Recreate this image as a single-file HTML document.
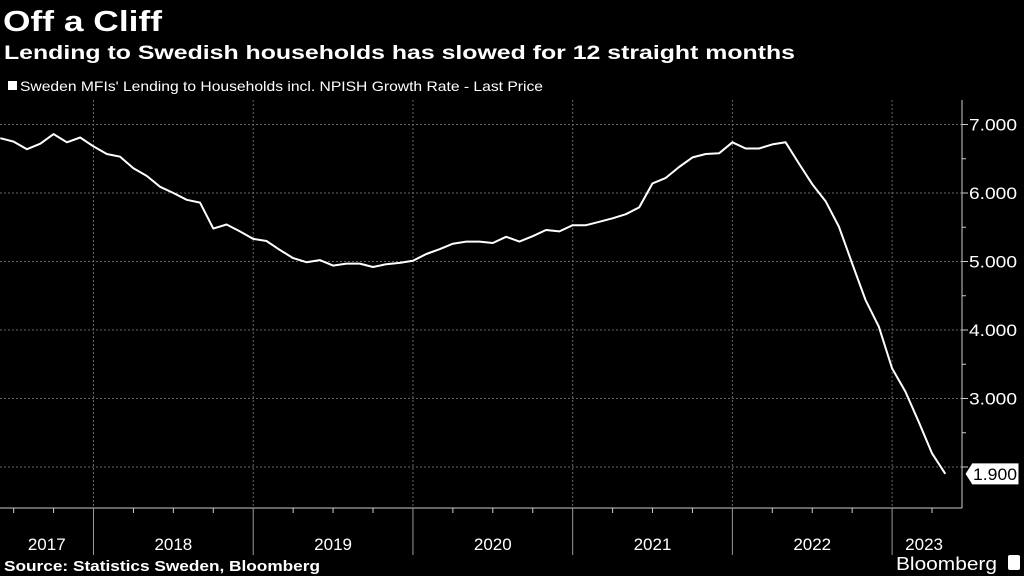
<!DOCTYPE html>
<html><head><meta charset="utf-8"><style>
body{margin:0;background:#000;width:1024px;height:576px;overflow:hidden;font-family:"Liberation Sans",sans-serif;color:#fff}
svg{position:absolute;left:0;top:0}
</style></head><body>
<svg width="1024" height="576">
<text x="3" y="31" font-size="29" font-weight="bold" fill="#fff" textLength="159" lengthAdjust="spacingAndGlyphs">Off a Cliff</text>
<text x="4" y="59" font-size="19" font-weight="bold" fill="#fff" textLength="791" lengthAdjust="spacingAndGlyphs">Lending to Swedish households has slowed for 12 straight months</text>
<rect x="8" y="81" width="9" height="9" fill="#fff"/>
<text x="20" y="91" font-size="14" fill="#fff" textLength="523" lengthAdjust="spacingAndGlyphs">Sweden MFIs' Lending to Households incl. NPISH Growth Rate - Last Price</text>
<g id="grid"></g>
<g id="axes"></g>
<path id="line" fill="none" stroke="#fff" stroke-width="2" stroke-linejoin="round"/>
<g>
<path id="lastbox" fill="#fff" stroke="#000" stroke-width="1"/>
<text id="lasttext" font-size="17" fill="#000" textLength="44" lengthAdjust="spacingAndGlyphs"></text>
</g>
<text x="4" y="571" font-size="15" font-weight="bold" fill="#fff" textLength="316" lengthAdjust="spacingAndGlyphs">Source: Statistics Sweden, Bloomberg</text>
<text x="896" y="570" font-size="18" fill="#fff" textLength="101" lengthAdjust="spacingAndGlyphs">Bloomberg</text>
<rect x="1008" y="555" width="12" height="15" rx="2" fill="#fff"/>
</svg>
<script>
const values=[6.80,6.75,6.64,6.72,6.86,6.74,6.81,6.68,6.57,6.53,6.36,6.25,6.09,6.00,5.90,5.86,5.48,5.54,5.44,5.33,5.30,5.17,5.05,4.99,5.02,4.94,4.97,4.97,4.92,4.96,4.98,5.01,5.11,5.18,5.26,5.29,5.29,5.27,5.36,5.29,5.37,5.46,5.44,5.53,5.53,5.58,5.63,5.69,5.79,6.14,6.22,6.38,6.52,6.57,6.58,6.74,6.65,6.65,6.71,6.74,6.43,6.13,5.88,5.51,4.97,4.44,4.05,3.44,3.10,2.66,2.20,1.90];
const startMonthIndex=5; // Jun 2017 (0=Jan 2017)
const years=["2017","2018","2019","2020","2021","2022","2023"];
const yTicks=[2,3,4,5,6,7];
const lastLabel="1.900";
const ns="http://www.w3.org/2000/svg";
const monthW=13.31, jan2018X=93.5;
const xOf=m=>jan2018X+(m-12)*monthW;
const yOf=v=>124.5+(7-v)*68.5;
const axisX=962, axisBottom=508, plotTop=100;
function mk(tag,attrs,parent){const e=document.createElementNS(ns,tag);for(const k in attrs)e.setAttribute(k,attrs[k]);parent.appendChild(e);return e;}
const grid=document.getElementById('grid'),axes=document.getElementById('axes');
yTicks.forEach(t=>{
 const l=mk('line',{x1:0,x2:axisX,y1:yOf(t),y2:yOf(t),stroke:'#666','stroke-dasharray':'2,2','stroke-width':1},grid);
 
 
 mk('line',{x1:axisX,x2:axisX+6,y1:yOf(t),y2:yOf(t),stroke:'#ccc'},axes);
 if(t+0.5<=7) mk('line',{x1:axisX,x2:axisX+4,y1:yOf(t+0.5),y2:yOf(t+0.5),stroke:'#ccc'},axes);
 if(t!==2){const tx=mk('text',{x:axisX+7,y:yOf(t)+6,'font-size':17,fill:'#fff',textLength:48,lengthAdjust:'spacingAndGlyphs'},axes);tx.textContent=t.toFixed(3);
 
 }
});
mk('line',{x1:axisX,x2:axisX,y1:plotTop,y2:axisBottom,stroke:'#ccc'},axes);
mk('line',{x1:0,x2:axisX,y1:axisBottom,y2:axisBottom,stroke:'#ccc'},axes);
years.forEach((y,i)=>{
 const x0=xOf(i*12), x1=Math.min(xOf((i+1)*12),axisX);
 if(i>0){
  const g=mk('line',{x1:x0,x2:x0,y1:plotTop,y2:axisBottom,stroke:'#666','stroke-dasharray':'2,2'},grid);
  
  
  mk('line',{x1:x0,x2:x0,y1:axisBottom,y2:555,stroke:'#999'},axes);
 }
 for(let q=1;q<4;q++){const qx=xOf(i*12+q*3);if(qx>0&&qx<axisX)mk('line',{x1:qx,x2:qx,y1:axisBottom,y2:axisBottom+5,stroke:'#ccc'},axes);}
 const cx=Math.max((Math.max(x0,0)+x1)/2,0);
 const t=mk('text',{x:i===6?x0+32:cx,y:550,'font-size':17,fill:'#fff','text-anchor':'middle'},axes);t.textContent=y;
 
 
});
let d='';values.forEach((v,i)=>{d+=(i?'L':'M')+xOf(startMonthIndex+i).toFixed(1)+','+yOf(v).toFixed(1);});
document.getElementById('line').setAttribute('d',d);
const ly=yOf(values[values.length-1]);
document.getElementById('lastbox').setAttribute('d',`M${axisX+3},${ly} L${axisX+10},${ly-11} H1019 V${ly+11} H${axisX+10} Z`);
const lt=document.getElementById('lasttext');lt.setAttribute('x',axisX+11);lt.setAttribute('y',ly+6);lt.textContent=lastLabel;
</script>
</body></html>
